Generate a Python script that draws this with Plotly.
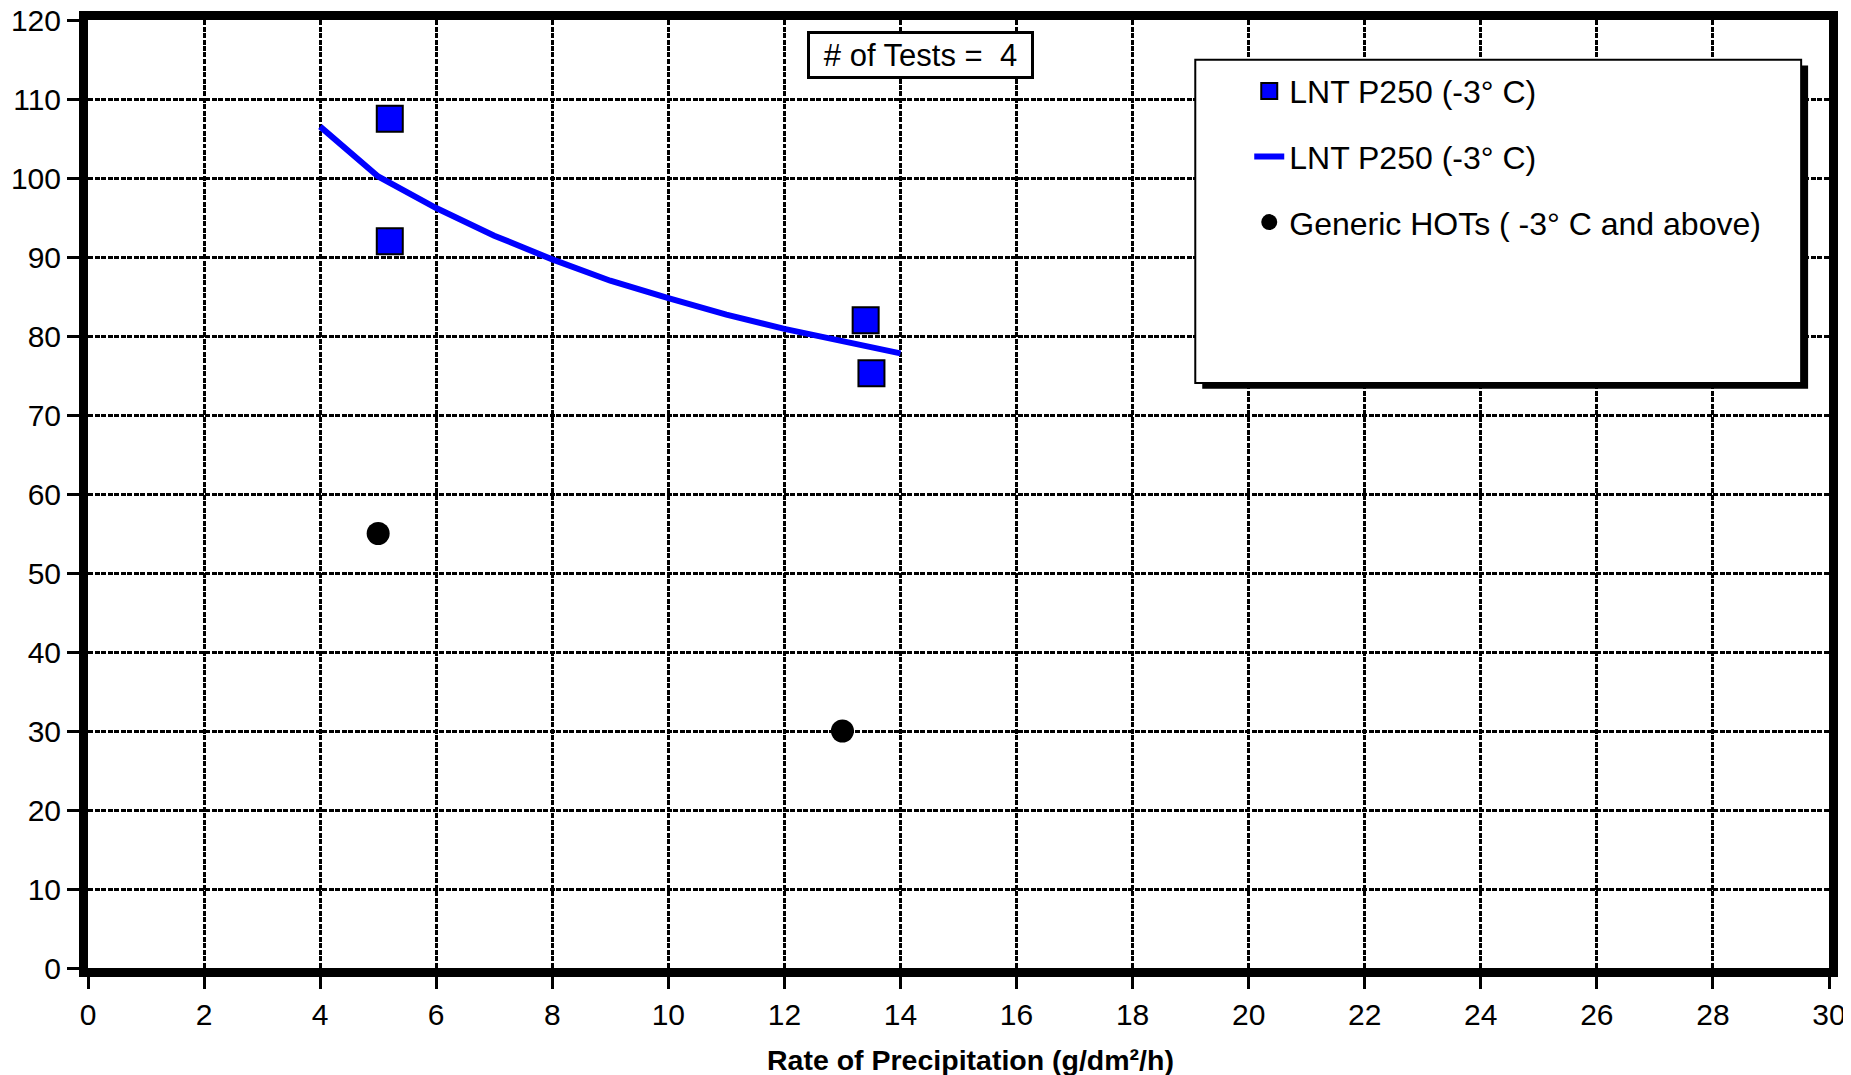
import plotly.graph_objects as go

# Data
lnt_x = [5.2, 5.2, 13.4, 13.5]
lnt_y = [107.5, 92.0, 82.0, 75.3]

fit_x = [4, 5, 6, 7, 8, 9, 10, 11, 12, 13, 14]
fit_y = [106.5, 100.2, 96.2, 92.7, 89.7, 87.0, 84.8, 82.7, 80.9, 79.3, 77.8]

hot_x = [5, 13]
hot_y = [55, 30]

x_ticks = list(range(0, 31, 2))
y_ticks = list(range(0, 121, 10))

series_name = "LNT P250 (-3° C)"
hot_name = "Generic HOTs ( -3° C and above)"
tests_text = "# of Tests =  4"
x_title = "Rate of Precipitation (g/dm²/h)"

FONT = "Liberation Sans, Arial, sans-serif"

fig = go.Figure()
fig.add_trace(go.Scatter(
    x=lnt_x, y=lnt_y, mode="markers", name=series_name, legendgroup="a",
    marker=dict(symbol="square", size=26, color="#0000FF",
                line=dict(color="black", width=2)),
))
fig.add_trace(go.Scatter(
    x=fit_x, y=fit_y, mode="lines", name=series_name, legendgroup="b",
    line=dict(color="#0000FF", width=6),
))
fig.add_trace(go.Scatter(
    x=hot_x, y=hot_y, mode="markers", name=hot_name, legendgroup="c",
    marker=dict(symbol="circle", size=23, color="black"),
))

axis_common = dict(
    showline=True, linecolor="black", linewidth=9, mirror=True,
    showgrid=True, gridcolor="black", gridwidth=3, griddash="5px,1.5px",
    ticks="outside", ticklen=12, tickwidth=3, tickcolor="black",
    zeroline=False, automargin=False, ticklabeloverflow="allow",
    tickfont=dict(family=FONT, size=30, color="black"),
)

fig.update_xaxes(range=[0, 30], tickvals=x_ticks, **axis_common)
fig.update_yaxes(range=[0, 120], tickvals=y_ticks, **axis_common)

# x axis title
fig.add_annotation(xref="paper", yref="paper", x=0.507, y=-0.097,
                   text="<b>" + x_title + "</b>", showarrow=False,
                   font=dict(family=FONT, size=28.5, color="black"),
                   xanchor="center", yanchor="middle")

# legend box with shadow (above grid)
fig.add_shape(type="rect", xref="paper", yref="paper",
              x0=0.640, x1=0.988, y0=0.611, y1=0.952,
              fillcolor="black", line=dict(width=0), layer="above")
fig.add_shape(type="rect", xref="paper", yref="paper",
              x0=0.636, x1=0.984, y0=0.617, y1=0.958,
              fillcolor="white", line=dict(color="black", width=2), layer="above")

fig.add_annotation(xref="paper", yref="paper", x=0.478, y=0.9636,
                   text=tests_text, showarrow=False,
                   font=dict(family=FONT, size=31, color="black"),
                   width=215, height=36, align="center", valign="middle",
                   bordercolor="black", borderwidth=3, borderpad=3,
                   bgcolor="white", xanchor="center", yanchor="middle")

fig.update_layout(
    width=1843, height=1067,
    margin=dict(l=80, r=22, t=12, b=107),
    paper_bgcolor="white", plot_bgcolor="white",
    font=dict(family=FONT, color="black"),
    legend=dict(x=0.667, y=0.954, xanchor="left", yanchor="top",
                bgcolor="rgba(0,0,0,0)", borderwidth=0,
                traceorder="grouped", tracegroupgap=21,
                font=dict(family=FONT, size=32, color="black")),
)

fig.write_html("out.html")
